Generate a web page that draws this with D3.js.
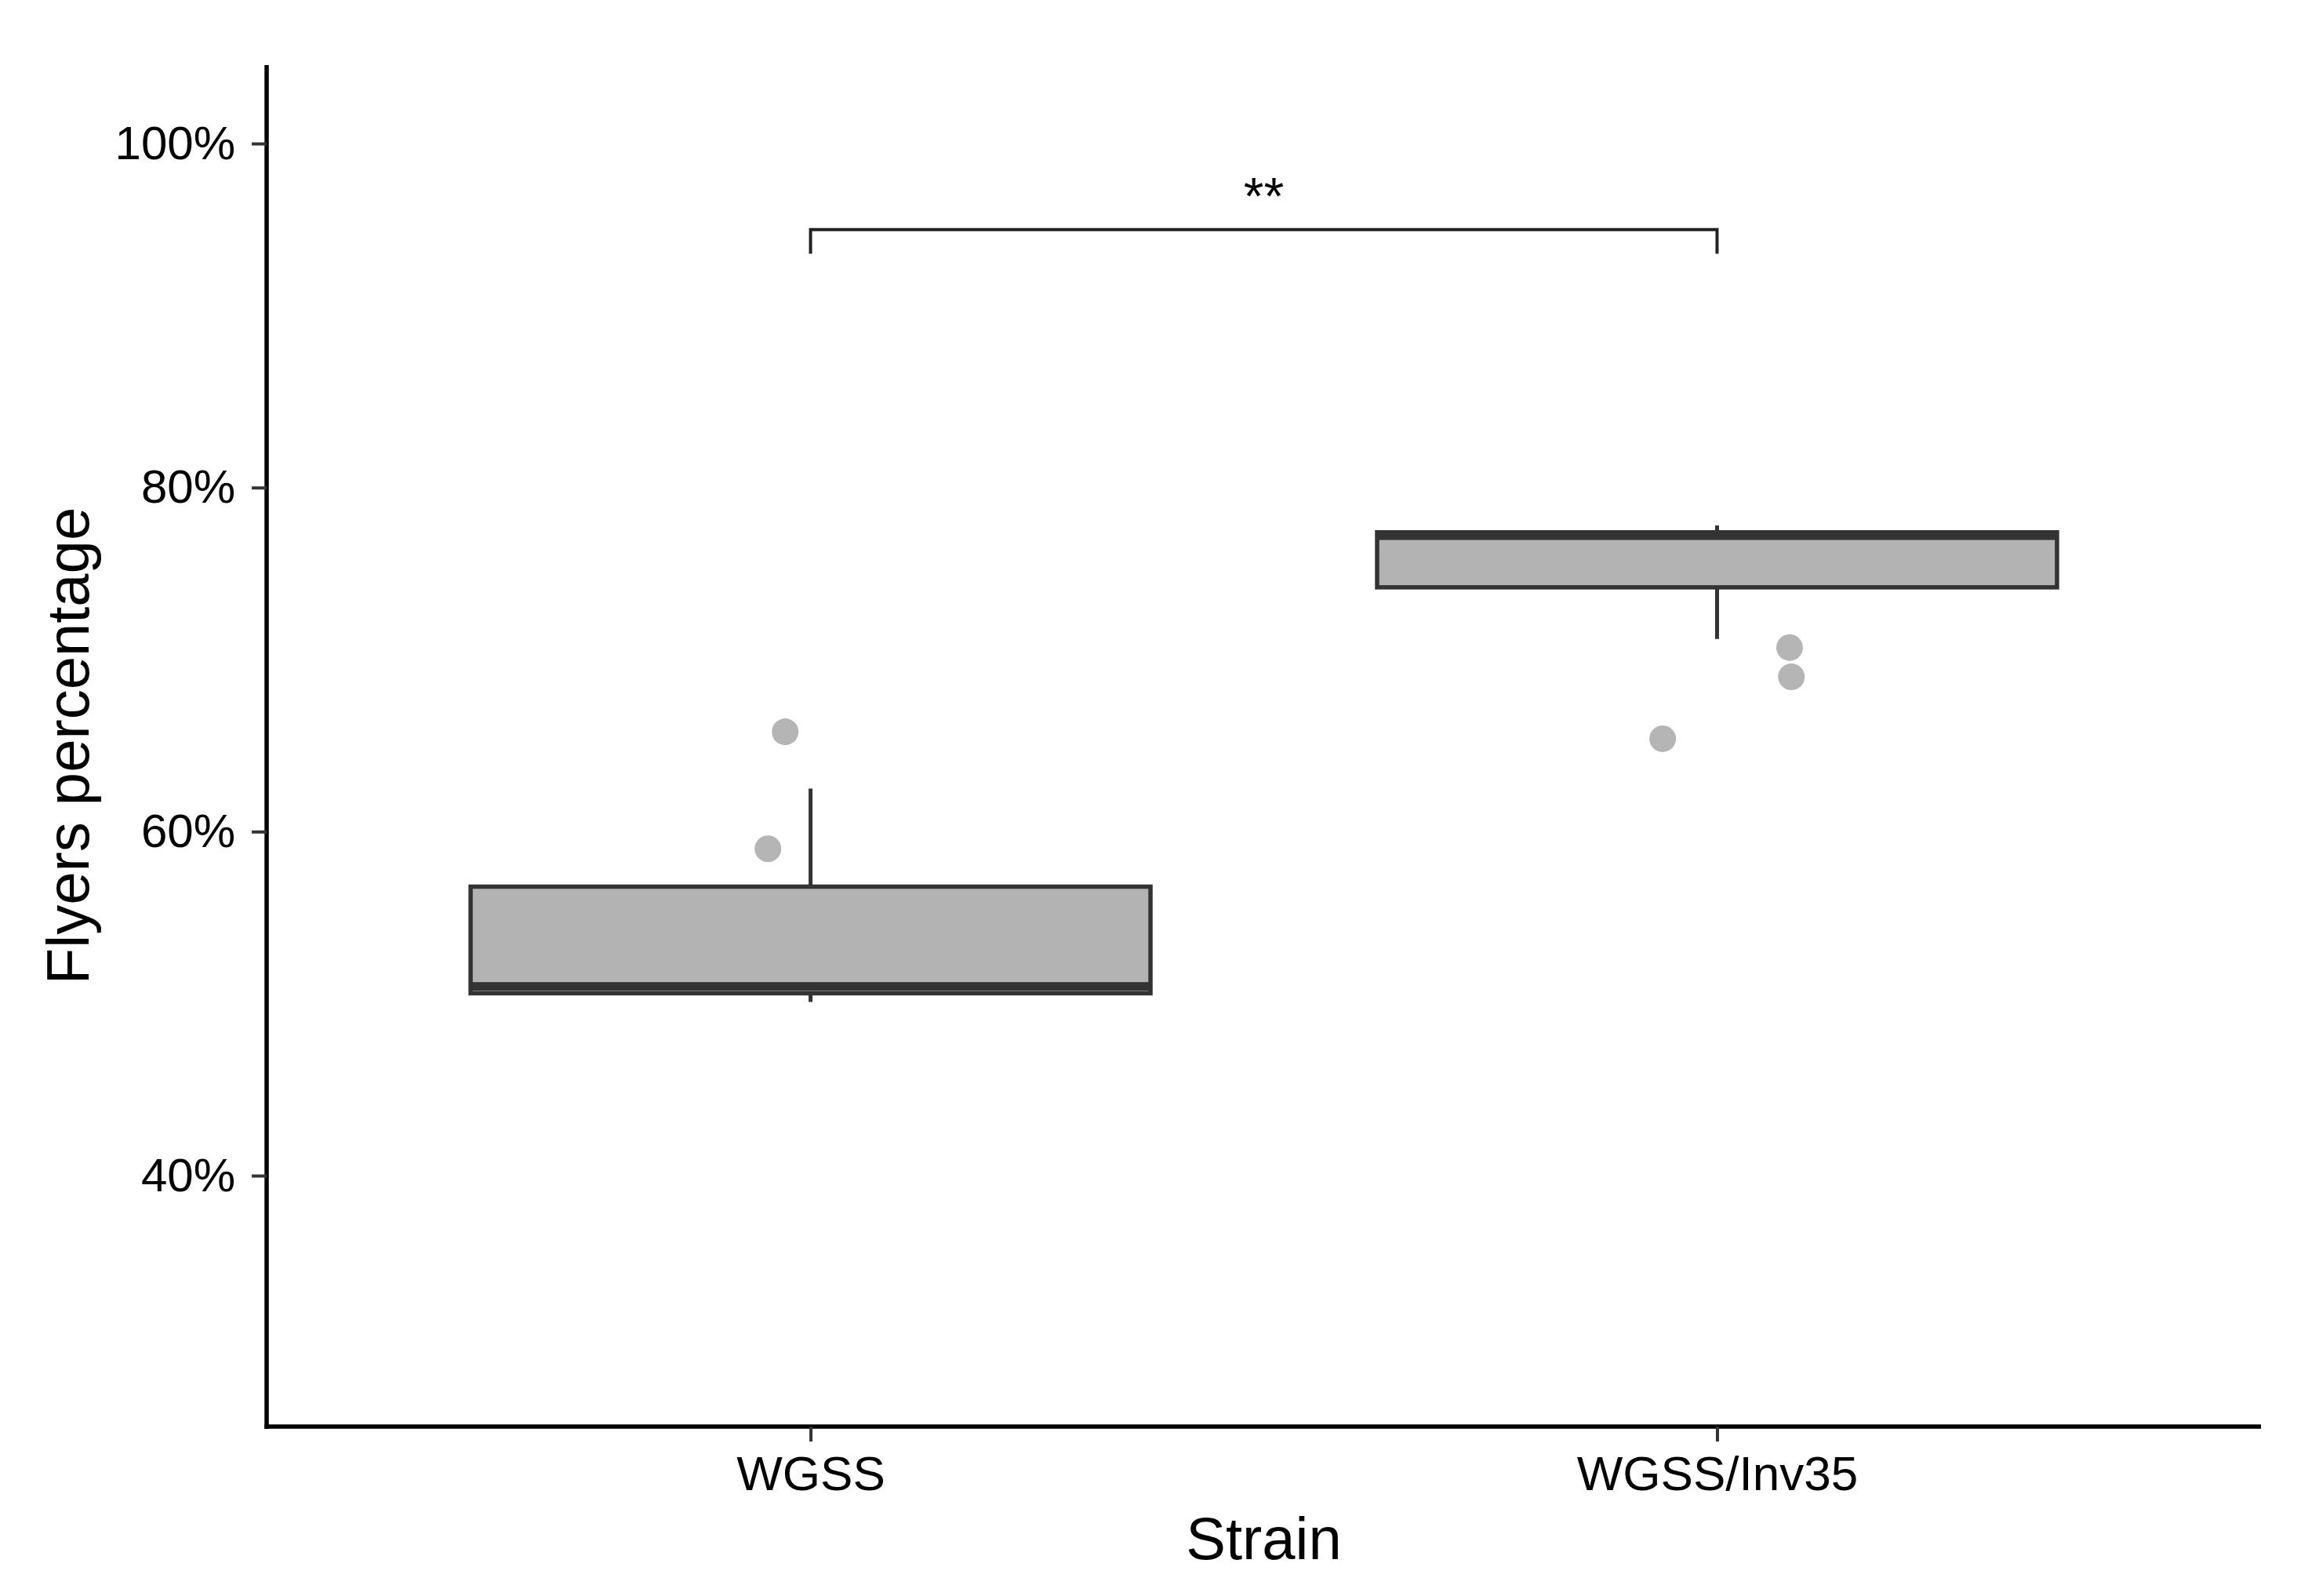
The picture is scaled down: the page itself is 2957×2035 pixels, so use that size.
<!DOCTYPE html>
<html>
<head>
<meta charset="utf-8">
<script src="https://cdn.jsdelivr.net/npm/d3@7"></script>
<style>
  body { margin: 0; background: #fff; }
  text { font-family: "Liberation Sans", Arial, sans-serif; }
</style>
</head>
<body>
<div id="graph"></div>
<script>
// values (percent)
const strains = ["WGSS", "WGSS/Inv35"];
const whiskerLow = [50.1, 71.2];
const q1 = [50.6, 74.2];
const median = [51.0, 77.2];
const q3 = [56.8, 77.4];
const whiskerHigh = [62.5, 77.8];

// jittered points: strain index, horizontal offset (category units), value
const pointStrain = [0, 0, 1, 1, 1];
const pointOffset = [-0.028, -0.047, 0.08, 0.082, -0.06];
const pointValue = [65.8, 59.0, 70.7, 69.0, 65.4];

const yTicks = [40, 60, 80, 100];
const sigLabel = "**";
const sigY = 95;

const W = 2957, H = 2035;
const pLeft = 340, pRight = 2883, pTop = 83, pBottom = 1819;

const svg = d3.select("#graph").append("svg")
    .attr("width", W).attr("height", H)
    .style("background", "#fff");

const x = d3.scalePoint().domain(strains).range([pLeft, pRight]).padding(0.6);
const step = x.step();
const y = d3.scaleLinear().domain([25.41, 104.56]).range([pBottom, pTop]);

/* boxes */
const boxes = strains.map((s, i) => ({
    s: s, lo: whiskerLow[i], q1: q1[i], med: median[i], q3: q3[i], hi: whiskerHigh[i]
}));
const bw = step * 0.75;

const g = svg.append("g");
g.selectAll(".whisker").data(boxes).enter().append("line")
    .attr("x1", d => x(d.s)).attr("x2", d => x(d.s))
    .attr("y1", d => y(d.lo)).attr("y2", d => y(d.hi))
    .attr("stroke", "#333").attr("stroke-width", 5);

g.selectAll(".box").data(boxes).enter().append("rect")
    .attr("x", d => x(d.s) - bw / 2)
    .attr("width", bw)
    .attr("y", d => y(d.q3))
    .attr("height", d => y(d.q1) - y(d.q3))
    .attr("fill", "#b3b3b3")
    .attr("stroke", "#333").attr("stroke-width", 5.5);

g.selectAll(".median").data(boxes).enter().append("line")
    .attr("x1", d => x(d.s) - bw / 2).attr("x2", d => x(d.s) + bw / 2)
    .attr("y1", d => y(d.med)).attr("y2", d => y(d.med))
    .attr("stroke", "#333").attr("stroke-width", 11);

/* points */
svg.selectAll(".pt").data(pointValue).enter().append("circle")
    .attr("cx", (d, i) => x(strains[pointStrain[i]]) + pointOffset[i] * step)
    .attr("cy", d => y(d))
    .attr("r", 17)
    .attr("fill", "#b5b5b5");

/* significance bracket */
const x1 = x(strains[0]), x2 = x(strains[1]);
svg.append("path")
    .attr("d", `M${x1},${y(sigY - 1.4)}V${y(sigY)}H${x2}V${y(sigY - 1.4)}`)
    .attr("fill", "none").attr("stroke", "#222").attr("stroke-width", 4);
svg.append("text")
    .attr("x", (x1 + x2) / 2).attr("y", y(sigY) - 20)
    .attr("text-anchor", "middle")
    .attr("font-size", 66)
    .text(sigLabel);

/* axes */
const yAxis = d3.axisLeft(y).tickValues(yTicks).tickFormat(d => d + "%")
    .tickSize(19).tickSizeOuter(0).tickPadding(21);
const ya = svg.append("g").attr("transform", `translate(${pLeft},0)`).call(yAxis);

const xAxis = d3.axisBottom(x).tickSize(19).tickSizeOuter(0).tickPadding(18);
const xa = svg.append("g").attr("transform", `translate(0,${pBottom})`).call(xAxis);

[ya, xa].forEach(a => {
    a.select(".domain").attr("stroke", "#000").attr("stroke-width", 5.5);
    a.selectAll(".tick line").attr("stroke", "#333").attr("stroke-width", 4);
    a.selectAll(".tick text").attr("font-size", 60).attr("fill", "#000")
        .attr("font-family", '"Liberation Sans", Arial, sans-serif');
});
xa.selectAll(".tick text").attr("font-size", 62);
// let the axis lines meet at the corner
ya.select(".domain").attr("d", `M0,${pTop}V${pBottom + 2.75}`);
xa.select(".domain").attr("d", `M${pLeft - 2.75},0H${pRight}`);

/* titles */
svg.append("text")
    .attr("x", (pLeft + pRight) / 2).attr("y", 1988)
    .attr("text-anchor", "middle").attr("font-size", 76)
    .text("Strain");
svg.append("text")
    .attr("transform", `translate(113,${(pTop + pBottom) / 2}) rotate(-90)`)
    .attr("text-anchor", "middle").attr("font-size", 76)
    .text("Flyers percentage");
</script>
</body>
</html>
